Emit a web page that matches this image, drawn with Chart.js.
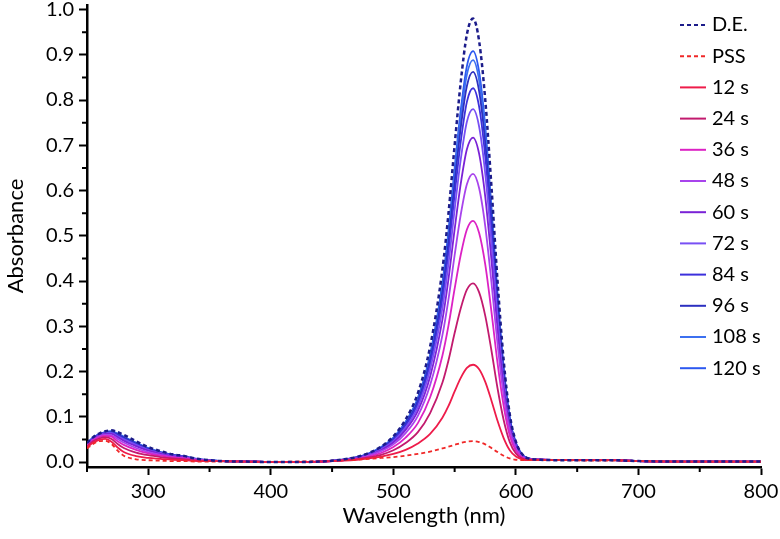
<!DOCTYPE html>
<html>
<head>
<meta charset="utf-8">
<script src="https://cdn.jsdelivr.net/npm/chart.js@4.4.1/dist/chart.umd.min.js"></script>
<style>
  html, body { margin: 0; padding: 0; background: #fff; }
</style>
</head>
<body>
<canvas id="spectra" width="780" height="539"></canvas>
<script>
// Wavelength grid (nm) and absorbance
const wavelengths = [250,255,260,265,270,275,280,290,300,310,320,330,340,350,360,380,400,420,440,450,460,470,480,490,500,510,520,530,540,545,550,555,560,565,570,575,580,585,590,595,600,605,610,620,640,660,680,700,750,800];

const absDE  = [0.042,0.055,0.063,0.068,0.070,0.066,0.060,0.046,0.033,0.024,0.017,0.013,0.007,0.004,0.002,0.001,0,0,0.001,0.003,0.006,0.011,0.020,0.034,0.057,0.094,0.152,0.255,0.425,0.55,0.70,0.84,0.945,0.98,0.93,0.80,0.61,0.40,0.225,0.105,0.045,0.018,0.008,0.005,0.004,0.004,0.004,0.002,0.001,0.001];
const absPSS = [0.030,0.040,0.046,0.047,0.040,0.025,0.014,0.006,0.004,0.003,0.002,0.002,0.001,0.001,0.001,0,0,0.001,0.002,0.003,0.004,0.005,0.007,0.009,0.011,0.014,0.018,0.023,0.030,0.034,0.038,0.042,0.045,0.046,0.044,0.039,0.031,0.022,0.014,0.008,0.005,0.004,0.004,0.004,0.004,0.003,0.003,0.002,0.001,0.001];
const abs12  = [0.032,0.043,0.049,0.051,0.045,0.032,0.022,0.013,0.009,0.007,0.005,0.004,0.002,0.002,0.002,0.001,0,0,0.001,0.002,0.003,0.005,0.008,0.012,0.018,0.027,0.041,0.062,0.098,0.124,0.156,0.186,0.208,0.215,0.205,0.177,0.136,0.091,0.053,0.026,0.012,0.006,0.004,0.004,0.004,0.004,0.004,0.002,0.001,0.001];
const abs24  = [0.034,0.046,0.052,0.055,0.051,0.040,0.031,0.021,0.015,0.011,0.008,0.006,0.003,0.002,0.002,0.001,0,0,0.001,0.002,0.004,0.006,0.010,0.016,0.026,0.042,0.066,0.108,0.175,0.225,0.285,0.340,0.381,0.395,0.375,0.323,0.247,0.163,0.093,0.044,0.019,0.008,0.005,0.005,0.004,0.004,0.004,0.002,0.001,0.001];
const abs36  = [0.036,0.048,0.055,0.058,0.056,0.046,0.038,0.027,0.019,0.014,0.010,0.008,0.004,0.003,0.002,0.001,0,0,0.001,0.002,0.004,0.007,0.012,0.020,0.033,0.054,0.086,0.143,0.235,0.302,0.383,0.458,0.514,0.533,0.506,0.436,0.333,0.219,0.124,0.058,0.025,0.010,0.005,0.005,0.004,0.004,0.004,0.002,0.001,0.001];
const abs48  = [0.038,0.049,0.057,0.060,0.059,0.051,0.043,0.031,0.022,0.016,0.011,0.009,0.005,0.003,0.002,0.001,0,0,0.001,0.002,0.004,0.008,0.014,0.024,0.039,0.064,0.102,0.170,0.280,0.360,0.457,0.547,0.614,0.637,0.605,0.521,0.398,0.261,0.148,0.069,0.030,0.012,0.006,0.005,0.004,0.004,0.004,0.002,0.001,0.001];
const abs60  = [0.039,0.051,0.058,0.062,0.062,0.055,0.047,0.035,0.025,0.018,0.013,0.010,0.005,0.003,0.002,0.001,0,0,0.001,0.002,0.005,0.009,0.015,0.026,0.043,0.071,0.113,0.189,0.314,0.405,0.514,0.615,0.691,0.717,0.681,0.586,0.448,0.294,0.166,0.078,0.034,0.013,0.006,0.005,0.004,0.004,0.004,0.002,0.001,0.001];
const abs72  = [0.039,0.052,0.059,0.064,0.064,0.057,0.050,0.038,0.027,0.020,0.014,0.011,0.006,0.003,0.002,0.001,0,0,0.001,0.003,0.005,0.009,0.016,0.028,0.046,0.076,0.122,0.205,0.340,0.439,0.558,0.669,0.752,0.780,0.741,0.637,0.487,0.319,0.180,0.084,0.036,0.014,0.007,0.005,0.004,0.004,0.004,0.002,0.001,0.001];
const abs84  = [0.040,0.053,0.060,0.065,0.065,0.059,0.052,0.039,0.028,0.021,0.015,0.011,0.006,0.004,0.002,0.001,0,0,0.001,0.003,0.005,0.010,0.017,0.030,0.049,0.081,0.129,0.217,0.360,0.465,0.591,0.708,0.796,0.826,0.785,0.675,0.515,0.338,0.191,0.089,0.038,0.015,0.007,0.005,0.004,0.004,0.004,0.002,0.001,0.001];
const abs96  = [0.040,0.053,0.061,0.065,0.066,0.061,0.054,0.041,0.029,0.021,0.015,0.012,0.006,0.004,0.002,0.001,0,0,0.001,0.003,0.005,0.010,0.018,0.031,0.051,0.084,0.135,0.226,0.376,0.485,0.616,0.739,0.831,0.862,0.819,0.704,0.537,0.352,0.199,0.093,0.040,0.016,0.008,0.005,0.004,0.004,0.004,0.002,0.001,0.001];
const abs108 = [0.041,0.054,0.061,0.066,0.067,0.062,0.055,0.042,0.030,0.022,0.016,0.012,0.006,0.004,0.002,0.001,0,0,0.001,0.003,0.005,0.010,0.018,0.032,0.053,0.087,0.139,0.233,0.387,0.500,0.635,0.761,0.856,0.888,0.843,0.725,0.553,0.363,0.205,0.095,0.041,0.016,0.008,0.005,0.004,0.004,0.004,0.002,0.001,0.001];
const abs120 = [0.041,0.054,0.062,0.066,0.068,0.063,0.056,0.043,0.031,0.022,0.016,0.012,0.007,0.004,0.002,0.001,0,0,0.001,0.003,0.006,0.010,0.019,0.033,0.054,0.089,0.142,0.238,0.396,0.511,0.649,0.778,0.875,0.908,0.862,0.741,0.565,0.371,0.209,0.097,0.042,0.017,0.008,0.005,0.004,0.004,0.004,0.002,0.001,0.001];

const seriesLabels = ["D.E.", "PSS", "12 s", "24 s", "36 s", "48 s", "60 s", "72 s", "84 s", "96 s", "108 s", "120 s"];
const seriesValues = [absDE, absPSS, abs12, abs24, abs36, abs48, abs60, abs72, abs84, abs96, abs108, abs120];
const seriesColors = ["#1c1c8a", "#f02828", "#ee1c4a", "#c21a6e", "#dc22c4", "#a844ec", "#7a22d6", "#7850f4", "#3c30dc", "#2c30c0", "#3c70f0", "#2c58f0"];

// axis ticks
const xTickValues = [300, 400, 500, 600, 700, 800];
const xMinorTicks = [250, 350, 450, 550, 650, 750];
const yTickValues = [0, 0.1, 0.2, 0.3, 0.4, 0.5, 0.6, 0.7, 0.8, 0.9, 1.0];
const yMinorTicks = [0.05, 0.15, 0.25, 0.35, 0.45, 0.55, 0.65, 0.75, 0.85, 0.95];

const datasets = seriesLabels.map((name, i) => ({
  label: name,
  data: wavelengths.map((w, j) => ({ x: w, y: seriesValues[i][j] })),
  borderColor: seriesColors[i],
  borderWidth: i === 0 ? 2.5 : 1.8,
  borderDash: i < 2 ? [4, 3] : [],
  pointRadius: 0,
  fill: false,
  cubicInterpolationMode: "monotone",
}));

// Legend inside the plot + short minor ticks
const extras = {
  id: "extras",
  afterDraw(chart) {
    const ctx = chart.ctx;
    const xs = chart.scales.x, ys = chart.scales.y;
    ctx.save();
    ctx.strokeStyle = "#000";
    ctx.lineWidth = 2;
    ctx.beginPath();
    xMinorTicks.forEach((v) => {
      const px = xs.getPixelForValue(v);
      ctx.moveTo(px, xs.top);
      ctx.lineTo(px, xs.top + 5);
    });
    yMinorTicks.forEach((v) => {
      const py = ys.getPixelForValue(v);
      ctx.moveTo(ys.right, py);
      ctx.lineTo(ys.right - 5, py);
    });
    ctx.stroke();

    chart.data.datasets.forEach((ds, i) => {
      const y = 25 + i * 31.2;
      ctx.strokeStyle = ds.borderColor;
      ctx.lineWidth = 2;
      ctx.setLineDash(ds.borderDash);
      ctx.beginPath();
      ctx.moveTo(680, y);
      ctx.lineTo(706, y);
      ctx.stroke();
      ctx.setLineDash([]);
      ctx.fillStyle = "#000";
      ctx.font = "20px Lato";
      ctx.textBaseline = "middle";
      ctx.fillText(ds.label, 712, y);
    });
    ctx.restore();
  },
};

new Chart(document.getElementById("spectra"), {
  type: "line",
  data: { datasets: datasets },
  plugins: [extras],
  options: {
    responsive: false,
    animation: false,
    layout: { padding: { left: 0, top: 5, right: 19, bottom: 0 } },
    plugins: { legend: { display: false }, tooltip: { enabled: false } },
    scales: {
      x: {
        type: "linear",
        min: 250,
        max: 800,
        afterBuildTicks: (s) => { s.ticks = xTickValues.map((v) => ({ value: v })); },
        afterFit: (s) => { s.height = 72; s.paddingLeft = 0; s.paddingRight = 0; },
        ticks: { font: { family: "Lato", size: 20 }, color: "#000", padding: 5, maxRotation: 0, autoSkip: false },
        grid: { drawOnChartArea: false, tickLength: 8, tickWidth: 2, tickColor: "#000" },
        border: { color: "#000", width: 2.5 },
        title: { display: true, text: "Wavelength (nm)", font: { family: "Lato", size: 22 }, color: "#000", padding: { bottom: 10 } },
      },
      y: {
        min: -0.011,
        max: 1.01,
        afterBuildTicks: (s) => { s.ticks = yTickValues.map((v) => ({ value: v })); },
        afterFit: (s) => { s.width = 87; s.paddingTop = 0; s.paddingBottom = 0; },
        ticks: { font: { family: "Lato", size: 20 }, color: "#000", padding: 5, callback: (v) => v.toFixed(1) },
        grid: { drawOnChartArea: false, tickLength: 8, tickWidth: 2, tickColor: "#000" },
        border: { color: "#000", width: 2.5 },
        title: { display: true, text: "Absorbance", font: { family: "Lato", size: 22 }, color: "#000", padding: { top: 3 } },
      },
    },
  },
});
</script>
</body>
</html>
